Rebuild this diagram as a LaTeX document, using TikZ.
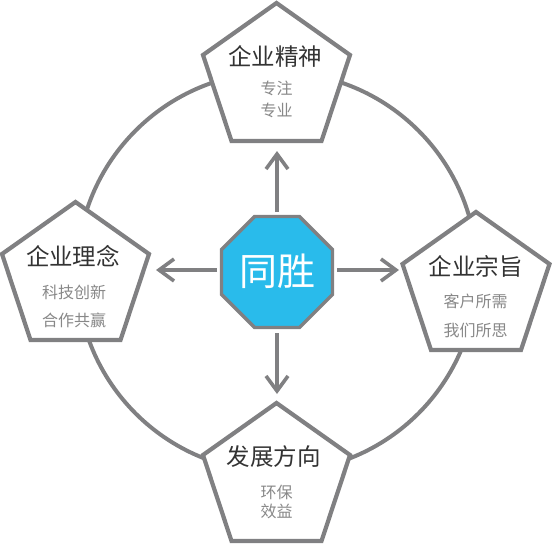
\documentclass[tikz,border=0pt]{standalone}
\usepackage{fontspec}
\setmainfont{Noto Sans CJK SC}
\usetikzlibrary{arrows.meta}
\definecolor{lineg}{HTML}{808082}
\definecolor{coreblue}{HTML}{29BBEB}
\definecolor{titlec}{HTML}{333333}
\definecolor{subc}{HTML}{888888}
\tikzset{
  ring/.style={draw=lineg, line width=4pt},
  pent/.style={draw=lineg, fill=white, line width=4.2pt, line join=miter},
  octa/.style={draw=lineg, fill=coreblue, line width=3.4pt, line join=miter},
  arr/.style={draw=lineg, line width=4pt, -{Straight Barb[length=15pt, width=22pt, line width=3.6pt]}},
  ttl/.style={text=titlec, inner sep=0pt, font=\fontsize{23.5}{23.5}\selectfont},
  sub/.style={text=subc, inner sep=0pt, font=\fontsize{16}{16}\selectfont},
  core/.style={text=white, inner sep=0pt, font=\fontsize{38}{38}\selectfont}
}
\begin{document}
\begin{tikzpicture}[x=1pt, y=-1pt]
\useasboundingbox (0,0) rectangle (552,544);
% ring
\draw[ring] (277,272) circle (200);
% pentagons
\draw[pent] (276.5,3) coordinate (topA) -- ++(73.5,52) -- ++(-28.5,86) coordinate (topBR) -- ++(-90,0) coordinate (topBL) -- ++(-28.5,-86) -- cycle;
\draw[pent] (75.5,202) coordinate (lftA) -- ++(73.5,52) coordinate (lftR) -- ++(-28.5,86) -- ++(-90,0) -- ++(-28.5,-86) -- cycle;
\draw[pent] (476,212) coordinate (rgtA) -- ++(73.5,52) -- ++(-28.5,86) -- ++(-90,0) -- ++(-28.5,-86) coordinate (rgtL) -- cycle;
\draw[pent] (276.5,403) coordinate (botA) -- ++(73.5,52) -- ++(-28.5,86) -- ++(-90,0) -- ++(-28.5,-86) -- cycle;
% octagon
\draw[octa] (254.6,216.5) -- (299.4,216.5) -- (332.5,249.6) -- (332.5,294.4) -- (299.4,327.5) -- (254.6,327.5) -- (221.5,294.4) -- (221.5,249.6) -- cycle;
\node[core] (center) at (277,271) {同胜};
% arrow end points
\coordinate (cN) at (277,212);
\coordinate (cS) at (277,333);
\coordinate (cW) at (217,270);
\coordinate (cE) at (337,270);
\coordinate (tN) at (277,151);
\coordinate (tS) at (277,394);
\coordinate (tW) at (156,270);
\coordinate (tE) at (399,270);
\draw[arr] (cN) -- (tN);
\draw[arr] (cS) -- (tS);
\draw[arr] (cW) -- (tW);
\draw[arr] (cE) -- (tE);
% texts
\node[ttl] (t1) at (275,56) {企业精神};
\node[sub] (s1a) at (276.5,88) {专注};
\node[sub] (s1b) at (276.5,110) {专业};
\node[ttl] (t2) at (73,256) {企业理念};
\node[sub] (s2a) at (74,292) {科技创新};
\node[sub] (s2b) at (74,320) {合作共赢};
\node[ttl] (t3) at (475.5,266) {企业宗旨};
\node[sub] (s3a) at (475.5,301) {客户所需};
\node[sub] (s3b) at (475.5,330) {我们所思};
\node[ttl] (t4) at (273.5,457) {发展方向};
\node[sub] (s4a) at (276.5,492) {环保};
\node[sub] (s4b) at (276.5,511) {效益};
\end{tikzpicture}
\end{document}
